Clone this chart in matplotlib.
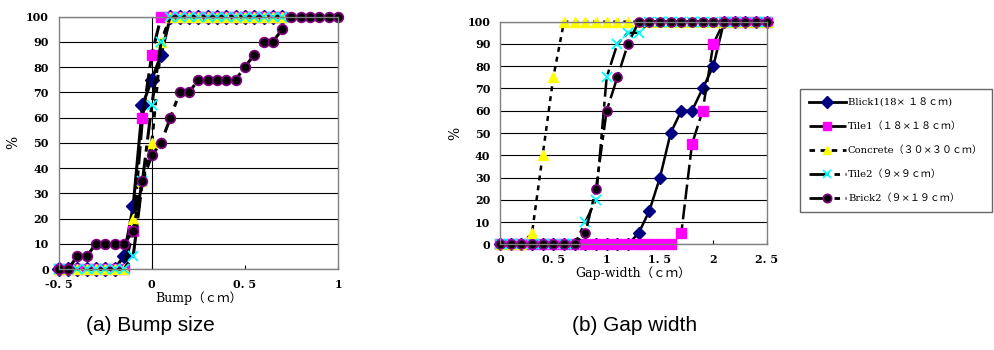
import matplotlib
matplotlib.use('Agg')
from matplotlib import pyplot as plt
from matplotlib.lines import Line2D

plt.rcParams['font.family'] = ['DejaVu Serif', 'Noto Sans CJK JP']

# (a) bump size
bump_x = [-0.5, -0.45, -0.4, -0.35, -0.3, -0.25, -0.2, -0.15, -0.1, -0.05, 0.0,
          0.05, 0.1, 0.15, 0.2, 0.25, 0.3, 0.35, 0.4, 0.45, 0.5, 0.55, 0.6,
          0.65, 0.7, 0.75, 0.8, 0.85, 0.9, 0.95, 1.0]
bump_brick1 = [0, 0, 0, 0, 0, 0, 0, 5, 25, 65, 75, 85, 100, 100, 100, 100, 100,
               100, 100, 100, 100, 100, 100, 100, 100]
bump_tile1 = [0, 0, 0, 0, 0, 0, 0, 0, 15, 60, 85, 100, 100, 100, 100, 100, 100,
              100, 100, 100, 100, 100, 100, 100, 100]
bump_concrete = [0, 0, 0, 0, 0, 0, 0, 0, 20, 35, 50, 90, 100, 100, 100, 100, 100,
                 100, 100, 100, 100, 100, 100, 100, 100]
bump_tile2 = [0, 0, 0, 0, 0, 0, 0, 0, 5, 35, 65, 90, 100, 100, 100, 100, 100,
              100, 100, 100, 100, 100, 100, 100, 100]
bump_brick2 = [0, 0, 5, 5, 10, 10, 10, 10, 15, 35, 45, 50, 60, 70, 70, 75, 75,
               75, 75, 75, 80, 85, 90, 90, 95, 100, 100, 100, 100, 100, 100]

# (b) gap width
gap_x = [0.0, 0.1, 0.2, 0.3, 0.4, 0.5, 0.6, 0.7, 0.8, 0.9, 1.0, 1.1, 1.2, 1.3,
         1.4, 1.5, 1.6, 1.7, 1.8, 1.9, 2.0, 2.1, 2.2, 2.3, 2.4, 2.5]
gap_brick1 = [0, 0, 0, 0, 0, 0, 0, 0, 0, 0, 0, 0, 0, 5, 15, 30, 50, 60, 60, 70,
              80, 100, 100, 100, 100, 100]
gap_tile1 = [0, 0, 0, 0, 0, 0, 0, 0, 0, 0, 0, 0, 0, 0, 0, 0, 0, 5, 45, 60, 90,
             100, 100, 100, 100, 100]
gap_concrete = [0, 0, 0, 5, 40, 75, 100, 100, 100, 100, 100, 100, 100, 100, 100,
                100, 100, 100, 100, 100, 100, 100, 100, 100, 100, 100]
gap_tile2 = [0, 0, 0, 0, 0, 0, 0, 0, 10, 20, 75, 90, 95, 95, 100, 100, 100, 100,
             100, 100, 100, 100, 100, 100, 100, 100]
gap_brick2 = [0, 0, 0, 0, 0, 0, 0, 0, 5, 25, 60, 75, 90, 100, 100, 100, 100, 100,
              100, 100, 100, 100, 100, 100, 100, 100]

labels = ['Blick1(18× １８ｃｍ)', 'Tile1（１８×１８ｃｍ）', 'Concrete（３０×３０ｃｍ）',
          'Tile2（９×９ｃｍ）', 'Brick2（９×１９ｃｍ）']

styles = [
    dict(ls='-', marker='D', mfc='#000080', mec='#000080'),
    dict(ls=(0, (6, 2)), marker='s', mfc='#FF00FF', mec='#FF00FF'),
    dict(ls=(0, (2, 2)), marker='^', mfc='#FFFF00', mec='#FFFF00'),
    dict(ls=(0, (7, 2, 2, 2)), marker='x', mfc='#00FFFF', mec='#00FFFF', mew=1.3),
    dict(ls=(0, (7, 2, 2, 2)), marker='o', mfc='black', mec='#800080', mew=1.2),
]

fig = plt.figure(figsize=(9.95, 3.5), dpi=100)
ax1 = fig.add_axes([0.059, 0.2314, 0.2807, 0.7209])
ax2 = fig.add_axes([0.5025, 0.302, 0.268, 0.636])


def setup(ax, xlim, xticks, xlabel):
    ax.set_xlim(*xlim)
    ax.set_ylim(0, 100)
    ax.set_yticks(range(0, 101, 10))
    ax.set_xticks(xticks)
    ax.set_xticklabels([('%g' % t).replace('.', '. ') for t in xticks])
    ax.yaxis.grid(True, color='black', lw=0.8)
    ax.set_axisbelow(True)
    for s in ax.spines.values():
        s.set_color('#808080')
        s.set_linewidth(1)
    ax.tick_params(axis='x', direction='in', length=3, labelsize=8, pad=7)
    ax.tick_params(axis='y', length=0, labelsize=8, pad=7)
    for lab in ax.get_xticklabels() + ax.get_yticklabels():
        lab.set_fontweight('bold')
    ax.set_ylabel('%', fontsize=10, labelpad=4)
    ax.set_xlabel(xlabel, fontsize=9, labelpad=1)


setup(ax1, (-0.5, 1.0), [-0.5, 0, 0.5, 1], 'Bump（ｃｍ）')
ax1.axvline(0, color='black', lw=0.8, zorder=1)
bump_series = [bump_brick1, bump_tile1, bump_concrete, bump_tile2, bump_brick2]
for ys, st in zip(bump_series, styles):
    ax1.plot(bump_x[:len(ys)], ys, color='black', lw=2.2, ms=7, clip_on=False, **st)

setup(ax2, (0, 2.5), [0, 0.5, 1, 1.5, 2, 2.5], 'Gap-width（ｃｍ）')
gap_series = [gap_brick1, gap_tile1, gap_concrete, gap_tile2, gap_brick2]
for ys, st in zip(gap_series, styles):
    ax2.plot(gap_x, ys, color='black', lw=1.8, ms=6.5, clip_on=False, **st)

handles = [Line2D([], [], color='black', lw=2, ms=6, **st) for st in styles]
leg = fig.legend(handles, labels, loc='upper left', bbox_to_anchor=(0.804, 0.746),
                 frameon=True, fancybox=False, fontsize=7.2, handlelength=3.7,
                 labelspacing=1.45, borderpad=0.9, handletextpad=0.2,
                 borderaxespad=0)
leg.get_frame().set_edgecolor('#404040')
leg.get_frame().set_linewidth(1)

fig.text(0.151, 0.07, '(a) Bump size', ha='center', va='center', fontsize=15,
         family='Liberation Sans')
fig.text(0.638, 0.07, '(b) Gap width', ha='center', va='center', fontsize=15,
         family='Liberation Sans')

fig.savefig('out.png', dpi=100)
